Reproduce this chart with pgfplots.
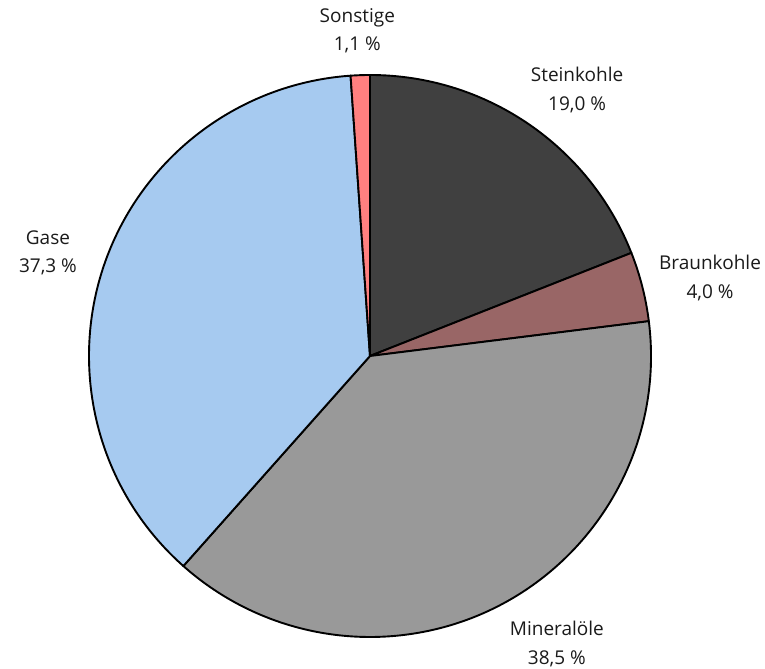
\documentclass[border=0pt]{standalone}
\usepackage{pgfplots}
\usepackage{pgfplotstable}
\pgfplotsset{compat=1.18}
\usepackage{fontspec}
\setmainfont{Open Sans}
\definecolor{cStein}{HTML}{404040}
\definecolor{cBraun}{HTML}{996666}
\definecolor{cMineral}{HTML}{999999}
\definecolor{cGase}{HTML}{A6CAF0}
\definecolor{cSonst}{HTML}{FF8080}
\definecolor{txt}{HTML}{1A1A1A}

% name; share in percent; colour; label position (axis units, radius = 1)
\pgfplotstableread[col sep=semicolon]{
name;value;color;lx;ly
Steinkohle;19.0;cStein;0.737;0.947
Braunkohle;4.0;cBraun;1.210;0.278
Mineralöle;38.5;cMineral;0.665;-1.025
Gase;37.3;cGase;-1.146;0.367
Sonstige;1.1;cSonst;-0.045;1.157
}\piedata

\begin{document}
\begin{tikzpicture}
\begin{axis}[
  scale only axis,
  width=765bp, height=669bp,
  xmin=-1.3167, xmax=1.4057,
  ymin=-1.1139, ymax=1.2669,
  hide axis, clip=false,
]
\addplot[draw=none] coordinates {(0,0)};
\pgfplotsextra{
  \path (rel axis cs:0,0) rectangle (rel axis cs:1,1);
  \xdef\pieStart{90}
  \pgfplotstablegetrowsof{\piedata}
  \pgfmathtruncatemacro\nrows{\pgfplotsretval-1}
  \xdef\pieTotal{0}
  \foreach \i in {0,...,\nrows}{
    \pgfplotstablegetelem{\i}{value}\of\piedata
    \pgfmathsetmacro\tmp{\pieTotal+\pgfplotsretval}
    \xdef\pieTotal{\tmp}
  }
  \foreach \i in {0,...,\nrows}{
    \pgfplotstablegetelem{\i}{value}\of\piedata \let\val\pgfplotsretval
    \pgfplotstablegetelem{\i}{color}\of\piedata \let\col\pgfplotsretval
    \pgfplotstablegetelem{\i}{name}\of\piedata \let\nam\pgfplotsretval
    \pgfplotstablegetelem{\i}{lx}\of\piedata \let\lx\pgfplotsretval
    \pgfplotstablegetelem{\i}{ly}\of\piedata \let\ly\pgfplotsretval
    \pgfmathsetmacro\pieEnd{\pieStart-360*\val/\pieTotal}
    \filldraw[fill=\col, draw=black, line width=1.9bp, line join=round]
      (axis cs:0,0) -- (axis cs:{cos(\pieStart)},{sin(\pieStart)})
      arc[start angle=\pieStart, end angle=\pieEnd, radius=281bp] -- cycle;
    \node[align=center, text=txt, font=\fontsize{19bp}{28.5bp}\selectfont, inner sep=0pt]
      at (axis cs:\lx,\ly)
      {\nam\\\pgfmathprintnumber[fixed,fixed zerofill,precision=1,use comma,assume math mode=true]{\val}~\%};
    \xdef\pieStart{\pieEnd}
  }
}
\end{axis}
\end{tikzpicture}
\end{document}
